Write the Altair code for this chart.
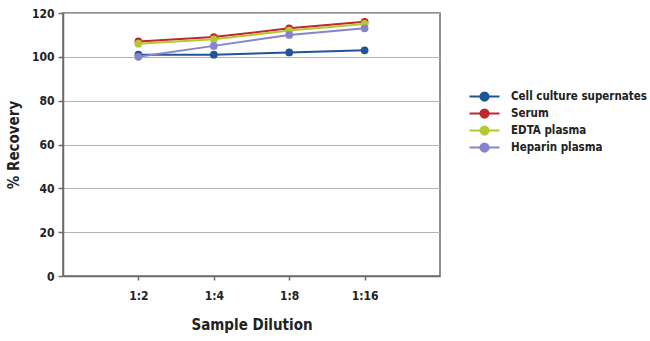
import altair as alt
import pandas as pd

dilutions = ["1:2", "1:4", "1:8", "1:16"]
series_names = ["Cell culture supernates", "Serum", "EDTA plasma", "Heparin plasma"]
cell_culture = [101, 101, 102, 103]
serum = [107, 109, 113, 116]
edta = [106, 108, 112, 115]
heparin = [100, 105, 110, 113]
colors = ["#1F5597", "#C0272D", "#B4C834", "#8585CC"]

rows = []
for name, vals in zip(series_names, [cell_culture, serum, edta, heparin]):
    for i, (d, v) in enumerate(zip(dilutions, vals)):
        rows.append({"Dilution": d, "Step": i, "Recovery": v, "Sample": name})
df = pd.DataFrame(rows)

FONT = "DejaVu Sans Condensed, Liberation Sans Narrow, Roboto, sans-serif"
sym = "M-2,0L2,0M0.55,0A0.55,0.55,0,1,1,-0.55,0A0.55,0.55,0,1,1,0.55,0Z"

chart = alt.Chart(df).mark_line(
    strokeWidth=2,
    point=alt.OverlayMarkDef(filled=True, size=60, opacity=1),
).encode(
    x=alt.X("Dilution:O", sort=dilutions,
            scale=alt.Scale(type="point", padding=1),
            axis=alt.Axis(title="Sample Dilution", labelAngle=0, grid=False,
                          tickSize=4, labelPadding=10, titlePadding=16)),
    y=alt.Y("Recovery:Q", scale=alt.Scale(domain=[0, 120], nice=False),
            axis=alt.Axis(title="% Recovery", values=[0, 20, 40, 60, 80, 100, 120],
                          tickSize=5, labelPadding=4, titlePadding=10)),
    color=alt.Color("Sample:N",
                    scale=alt.Scale(domain=series_names, range=colors),
                    legend=alt.Legend(title=None, orient="none", legendX=413, legendY=75,
                                      symbolType=sym, symbolSize=225, symbolStrokeWidth=2,
                                      labelOffset=18, rowPadding=0)),
    order=alt.Order("Step:Q"),
).properties(
    width=377, height=263,
    autosize=alt.AutoSizeParams(type="none"),
    padding={"left": 63, "top": 13, "right": 210, "bottom": 65},
).configure_view(
    stroke="#6b6b6b", strokeWidth=1.5
).configure_axis(
    labelFont=FONT, titleFont=FONT, labelFontWeight="bold", titleFontWeight="bold",
    labelFontSize=12, titleFontSize=15, labelColor="#222", titleColor="#222",
    domainColor="#6b6b6b", domainWidth=1.5, tickColor="#6b6b6b", tickWidth=1.5,
    gridColor="#b3b3b3", gridWidth=1,
).configure_legend(
    labelFont=FONT, labelFontWeight="bold", labelFontSize=11.5, labelColor="#222",
    labelLimit=300,
)

chart.save("out.html", embed_options={"renderer": "svg", "actions": False})
